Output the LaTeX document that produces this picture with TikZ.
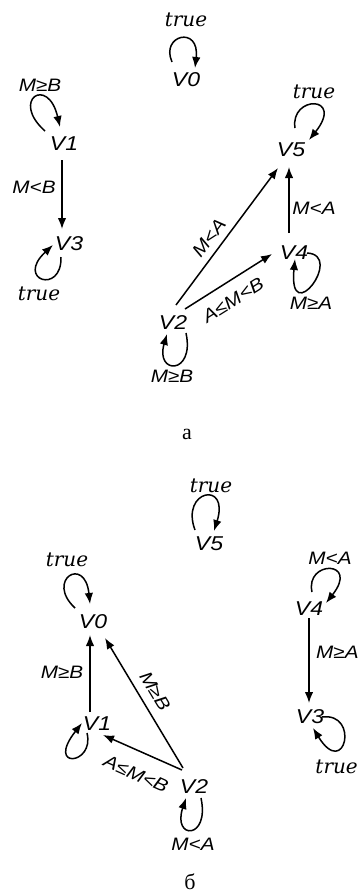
\documentclass[tikz,border=0pt]{standalone}
\usepackage{fontspec}
\setmainfont{Liberation Serif}
\newfontfamily\lsans[FakeStretch=1.15]{Liberation Sans}
\newfontfamily\dser{DejaVu Serif}
\usetikzlibrary{arrows.meta}
\tikzset{
  vname/.style={font=\lsans\itshape\fontsize{20}{20}\selectfont, inner sep=0pt},
  cond/.style={font=\lsans\itshape\fontsize{18}{18}\selectfont, inner sep=0pt},
  truelab/.style={font=\dser\itshape\fontsize{20}{20}\selectfont, inner sep=0pt},
  capt/.style={font=\fontsize{22}{22}\selectfont, inner sep=0pt},
  arr/.style={line width=1.5pt, -{Latex[length=11pt,width=8.5pt]}},
}
\begin{document}
\begin{tikzpicture}[x=1pt,y=-1pt]
\useasboundingbox (0,0) rectangle (358,894);
% ---------- diagram a ----------
\node[vname] (a0) at (186,80) {V0};
\node[vname] (a1) at (64,144) {V1};
\node[vname] (a3) at (69,244) {V3};
\node[vname] (a5) at (291,150) {V5};
\node[vname] (a4) at (294,253) {V4};
\node[vname] (a2) at (173,323) {V2};

\node[truelab] (ta0) at (186,20) {true};
\node[truelab] (ta3) at (39,294) {true};
\node[truelab] (ta5) at (314,92) {true};
\node[cond] (la1) at (40,85) {M≥B};
\node[cond] (la13) at (34,187) {M<B};
\node[cond] (la45) at (314,208) {M<A};
\node[cond] (la4) at (311,303) {M≥A};
\node[cond] (la2) at (172,376) {M≥B};
\node[cond,rotate=53] (la25) at (209,238) {M<A};
\node[cond,rotate=32] (la24) at (233,300) {A≤M<B};

\draw[arr] ([shift={(-2,16)}]a1.center) -- ([shift={(-7,-15)}]a3.center);
\draw[arr] ([shift={(-5,-20)}]a4.center) -- ([shift={(-2,17)}]a5.center);
\draw[arr] ([shift={(3,-18)}]a2.center) -- ([shift={(-13,18)}]a5.center);
\draw[arr] ([shift={(12,-14)}]a2.center) -- ([shift={(-22,1)}]a4.center);

\begin{scope}[shift={(a0.center)}]
\draw[arr] (-14,-18) .. controls (-26,-45) and (14,-55) .. (9,-12);
\end{scope}
\begin{scope}[shift={(a1.center)}]
\draw[arr] (-19,-13) .. controls (-54,-44) and (-16,-69) .. (-4,-17);
\end{scope}
\begin{scope}[shift={(a3.center)}]
\draw[arr] (-8,13) .. controls (-7,51) and (-54,36) .. (-16,1);
\end{scope}
\begin{scope}[shift={(a5.center)}]
\draw[arr] (4,-22) .. controls (-1,-55) and (54,-55) .. (18,-10);
\end{scope}
\begin{scope}[shift={(a4.center)}]
\draw[arr] (13,0) .. controls (51,2) and (-6,77) .. (1,6);
\end{scope}
\begin{scope}[shift={(a2.center)}]
\draw[arr] (13,10) .. controls (22,52) and (-18,52) .. (-6,11);
\end{scope}

\node[capt] (capa) at (187,434) {а};

% ---------- diagram b ----------
\node[vname] (b0) at (93,622) {V0};
\node[vname] (b1) at (97,724) {V1};
\node[vname] (b2) at (194,787) {V2};
\node[vname] (b5) at (209,544) {V5};
\node[vname] (b4) at (309,609) {V4};
\node[vname] (b3) at (310,717) {V3};

\node[truelab] (tb0) at (67,560) {true};
\node[truelab] (tb5) at (211,486) {true};
\node[truelab,anchor=east] (tb3) at (358,767) {true};
\node[cond] (lb10) at (62,672) {M≥B};
\node[cond,rotate=-59] (lb20) at (155,691) {M≥B};
\node[cond,rotate=-24] (lb21) at (136,774) {A≤M<B};
\node[cond] (lb4) at (330,558) {M<A};
\node[cond,anchor=west] (lb43) at (316,652) {M≥A};
\node[cond] (lb2) at (193,844) {M<A};

\draw[arr] ([shift={(-7,-12)}]b1.center) -- ([shift={(-3,13)}]b0.center);
\draw[arr] ([shift={(-11,-19)}]b2.center) -- ([shift={(12,16)}]b0.center);
\draw[arr] ([shift={(-12,-17)}]b2.center) -- ([shift={(6,11)}]b1.center);
\draw[arr] ([shift={(0,9)}]b4.center) -- ([shift={(-1,-14)}]b3.center);

\begin{scope}[shift={(b0.center)}]
\draw[arr] (-18,-14) .. controls (-48,-42) and (-8,-67) .. (-3,-18);
\end{scope}
\begin{scope}[shift={(b1.center)}]
\draw[arr] (-10,9) .. controls (-2,41) and (-52,46) .. (-15,-1);
\end{scope}
\begin{scope}[shift={(b2.center)}]
\draw[arr] (7,11) .. controls (16,53) and (-22,53) .. (-8,11);
\end{scope}
\begin{scope}[shift={(b5.center)}]
\draw[arr] (-14,-14) .. controls (-29,-54) and (21,-64) .. (5,-13);
\end{scope}
\begin{scope}[shift={(b4.center)}]
\draw[arr] (3,-17) .. controls (-4,-49) and (51,-49) .. (17,-6);
\end{scope}
\begin{scope}[shift={(b3.center)}]
\draw[arr] (12,0) .. controls (50,-5) and (35,63) .. (3,11);
\end{scope}

\node[capt] (capb) at (190,882) {б};
\end{tikzpicture}
\end{document}
